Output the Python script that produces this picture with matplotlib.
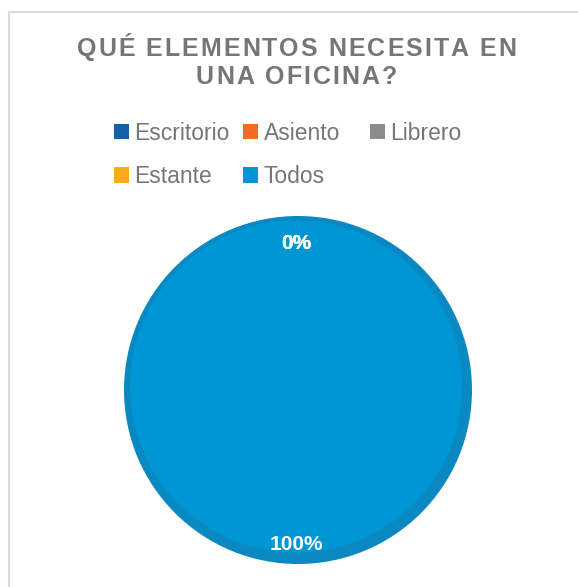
import matplotlib
matplotlib.use('Agg')
import matplotlib.pyplot as plt
from matplotlib.patches import Rectangle
from matplotlib.font_manager import FontProperties, findfont, get_font

plt.rcParams['font.family'] = ['Liberation Sans', 'DejaVu Sans']

# survey answers
categories = ['Escritorio', 'Asiento', 'Librero', 'Estante', 'Todos']
counts = [0, 0, 0, 0, 100]
colors = ['#1560AC', '#F26B21', '#8A8C8E', '#FBA919', '#0096D5']
shade = ['#0F4F90', '#D05A18', '#76787A', '#DC9414', '#0A88C2']
title_lines = ['QUÉ ELEMENTOS NECESITA EN', 'UNA OFICINA?']

W, H = 578, 587
DPI = 100
fig = plt.figure(figsize=(W / DPI, H / DPI), dpi=DPI)


def spaced_text(fig, line, xc, yc, size, tracking, **kw):
    """Draw a line of text centred at (xc, yc) px with extra letter spacing."""
    prop = FontProperties(family='Liberation Sans', weight='bold', size=size)
    font = get_font(findfont(prop))
    font.set_size(size, DPI)
    adv = [font.load_char(ord(c)).linearHoriAdvance / 65536 for c in line]
    total = sum(adv) + tracking * (len(line) - 1)
    x = xc - total / 2
    for c, a in zip(line, adv):
        fig.text(x / W, 1 - yc / H, c, ha='left', va='center',
                 fontproperties=prop, **kw)
        x += a + tracking


# light frame around the chart area
fig.patches.append(Rectangle((9 / W, -0.1), 1.2, 1.1 - 12 / H,
                             transform=fig.transFigure, fill=False,
                             edgecolor='#D9D9D9', lw=1.5))

cx, cy, r = 298, 390, 174
ax = fig.add_axes([(cx - r) / W, (H - cy - r) / H, 2 * r / W, 2 * r / H])

# outer darker rim, then the lighter face slightly offset
ax.pie(counts, colors=shade, startangle=90, counterclock=False, radius=1.0)
wedges, texts, autotexts = ax.pie(
    counts, colors=colors, startangle=90, counterclock=False,
    radius=0.955, center=(-0.011, 0.02),
    autopct=lambda p: '%d%%' % round(p), pctdistance=0.905,
    textprops=dict(color='white', fontsize=15, fontweight='bold'))
for t in autotexts:
    px, py = t.get_position()
    t.set_position((px, py - 0.045))
ax.set_xlim(-1, 1)
ax.set_ylim(-1, 1)
ax.set_aspect('equal')

for line, y in zip(title_lines, [49, 77]):
    spaced_text(fig, line, 296.5, y, 18, 2.0, color='#767676')

# legend laid out in three equal-width columns
cols = [[0, 3], [1, 4], [2]]
col_x = [114, 243, 370]
for idx, x in zip(cols, col_x):
    fig.legend([wedges[i] for i in idx], [categories[i] for i in idx],
               loc='upper left', bbox_to_anchor=(x / W, 1 - 121.5 / H),
               frameon=False, borderpad=0, borderaxespad=0,
               fontsize=16.5, labelcolor='#767676',
               handlelength=0.65, handleheight=0.65, handletextpad=0.25,
               labelspacing=0.9)

fig.savefig('out.png', dpi=DPI)
